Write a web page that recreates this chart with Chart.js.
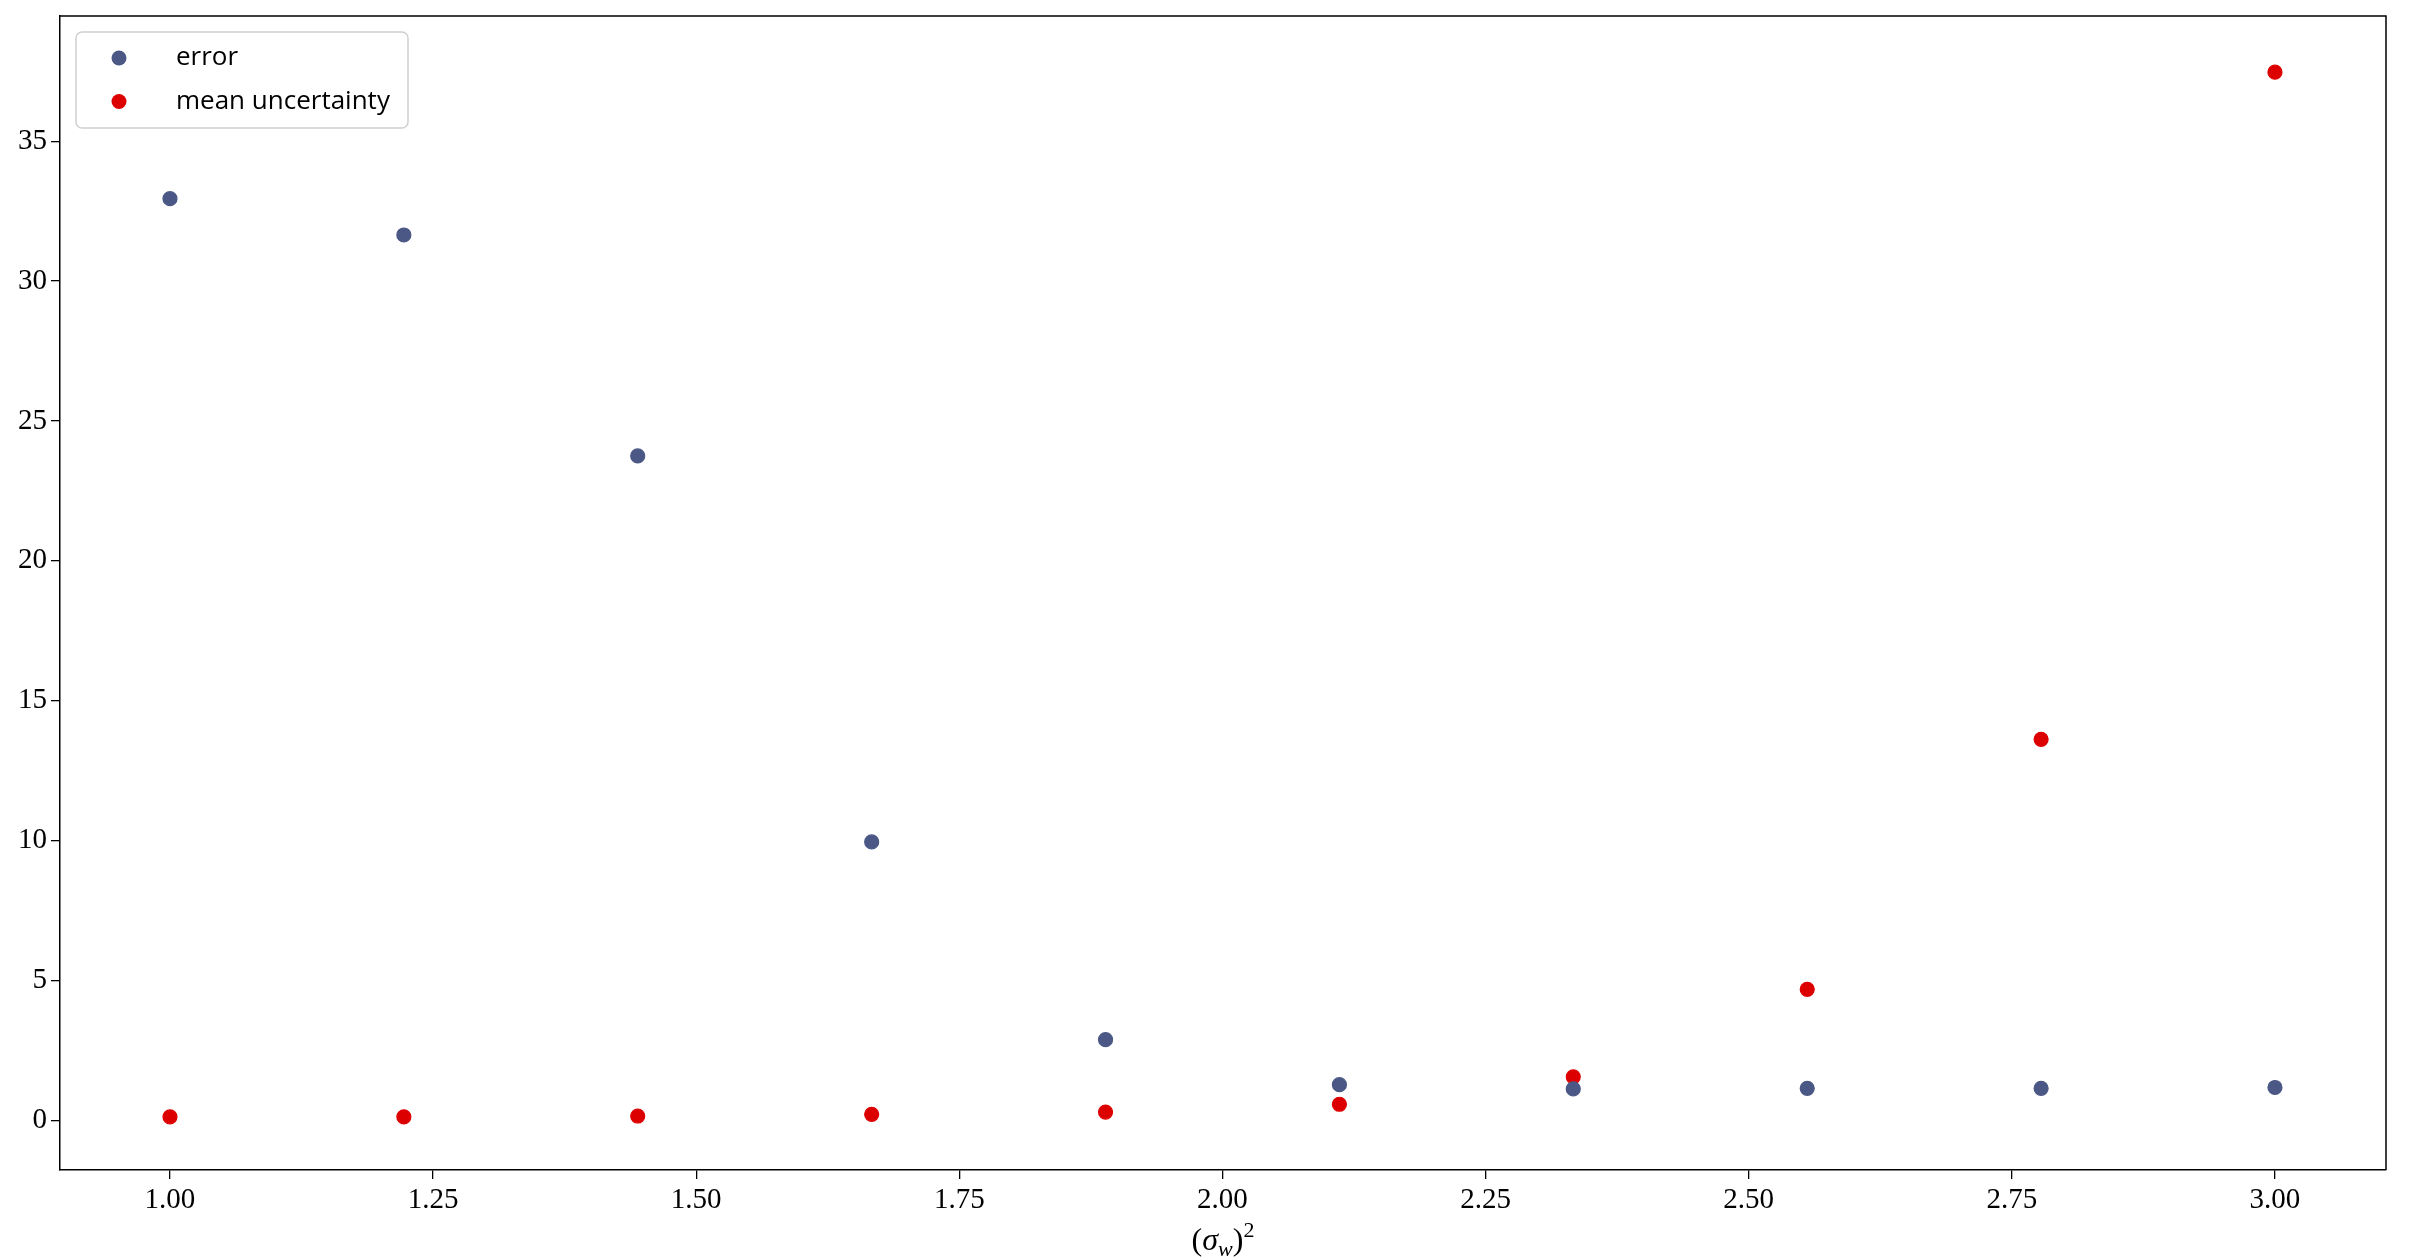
<!DOCTYPE html>
<html>
<head>
<meta charset="utf-8">
<script src="https://cdn.jsdelivr.net/npm/chart.js@4.4.1/dist/chart.umd.min.js"></script>
<style>
  html, body { margin: 0; padding: 0; background: #ffffff; }
  canvas { display: block; }
</style>
</head>
<body>
<canvas id="chart" width="2436" height="1260"></canvas>
<script>
// data
const xValues = [1.0, 1.2222, 1.4444, 1.6667, 1.8889, 2.1111, 2.3333, 2.5556, 2.7778, 3.0];
const errorValues = [32.95, 31.65, 23.75, 9.95, 2.88, 1.27, 1.12, 1.14, 1.14, 1.17];
const uncertaintyValues = [0.12, 0.12, 0.15, 0.21, 0.29, 0.57, 1.55, 4.68, 13.62, 37.47];
const seriesLabels = ["error", "mean uncertainty"];
const xTickValues = [1.0, 1.25, 1.5, 1.75, 2.0, 2.25, 2.5, 2.75, 3.0];
const yTickValues = [0, 5, 10, 15, 20, 25, 30, 35];

const errorColor = "#4b5886";
const uncertaintyColor = "#dd0000";
const tickFont = { family: "'Liberation Serif', 'DejaVu Serif', serif", size: 29 };

function toPoints(ys) {
    return xValues.map((x, i) => ({ x: x, y: ys[i] }));
}

// top and right spines
const framePlugin = {
    id: "frame",
    afterDraw(chart) {
        const { ctx, chartArea: a } = chart;
        ctx.save();
        ctx.strokeStyle = "#000";
        ctx.lineWidth = 1.5;
        ctx.beginPath();
        ctx.moveTo(a.left, a.top);
        ctx.lineTo(a.right, a.top);
        ctx.lineTo(a.right, a.bottom);
        ctx.stroke();
        ctx.restore();
    }
};

// x axis title (sigma_w)^2 with sub/superscript
const titlePlugin = {
    id: "mathTitle",
    afterDraw(chart) {
        const { ctx, chartArea: a } = chart;
        const serif = "'Liberation Serif', 'DejaVu Serif', serif";
        const parts = [
            { t: "(", font: "32px " + serif, dy: 0 },
            { t: "σ", font: "italic 32px " + serif, dy: 0 },
            { t: "w", font: "italic 22px " + serif, dy: 6 },
            { t: ")", font: "32px " + serif, dy: 0 },
            { t: "2", font: "22px " + serif, dy: -13 }
        ];
        ctx.save();
        ctx.fillStyle = "#000";
        ctx.textBaseline = "alphabetic";
        let total = 0;
        parts.forEach(p => { ctx.font = p.font; p.w = ctx.measureText(p.t).width; total += p.w; });
        let x = (a.left + a.right) / 2 - total / 2;
        const base = 1250;
        parts.forEach(p => {
            ctx.font = p.font;
            ctx.fillText(p.t, x, base + p.dy);
            x += p.w;
        });
        ctx.restore();
    }
};

// legend box in the upper left of the plot
const legendPlugin = {
    id: "boxLegend",
    afterDatasetsDraw(chart) {
        const { ctx, chartArea: a } = chart;
        const x0 = a.left + 16, y0 = a.top + 16, w = 332, h = 96, r = 6;
        ctx.save();
        ctx.beginPath();
        ctx.roundRect(x0, y0, w, h, r);
        ctx.fillStyle = "rgba(255,255,255,0.85)";
        ctx.fill();
        ctx.strokeStyle = "#d0d0d0";
        ctx.lineWidth = 1.5;
        ctx.stroke();
        ctx.font = "26px 'Open Sans', 'Noto Sans', sans-serif";
        ctx.textBaseline = "middle";
        chart.data.datasets.forEach((ds, i) => {
            const cy = y0 + 26 + i * 43.5;
            ctx.beginPath();
            ctx.arc(x0 + 43, cy, 7.5, 0, Math.PI * 2);
            ctx.fillStyle = ds.backgroundColor;
            ctx.fill();
            ctx.fillStyle = "#000";
            ctx.fillText(ds.label, x0 + 100, cy);
        });
        ctx.restore();
    }
};

new Chart(document.getElementById("chart"), {
    type: "scatter",
    data: {
        datasets: [
            {
                label: seriesLabels[0],
                data: toPoints(errorValues),
                backgroundColor: errorColor,
                borderColor: errorColor,
                pointRadius: 7,
                borderWidth: 1.2
            },
            {
                label: seriesLabels[1],
                data: toPoints(uncertaintyValues),
                backgroundColor: uncertaintyColor,
                borderColor: uncertaintyColor,
                pointRadius: 7,
                borderWidth: 1.2
            }
        ]
    },
    options: {
        responsive: false,
        animation: false,
        layout: { padding: { top: 16, right: 50, left: 0, bottom: 0 } },
        plugins: {
            legend: { display: false },
            tooltip: { enabled: false }
        },
        scales: {
            x: {
                type: "linear",
                min: 0.8955,
                max: 3.1055,
                afterBuildTicks: s => { s.ticks = xTickValues.map(v => ({ value: v })); },
                afterFit: s => { s.height = 90; s.paddingLeft = 0; s.paddingRight = 0; },
                ticks: {
                    color: "#000",
                    font: tickFont,
                    padding: 4,
                    maxRotation: 0,
                    autoSkip: false,
                    callback: v => v.toFixed(2)
                },
                grid: { display: true, drawOnChartArea: false, drawTicks: true, tickLength: 9, color: "#000", lineWidth: 1.3 },
                border: { display: true, color: "#000", width: 1.5 }
            },
            y: {
                type: "linear",
                min: -1.78,
                max: 39.48,
                afterBuildTicks: s => { s.ticks = yTickValues.map(v => ({ value: v })); },
                afterFit: s => { s.width = 60; s.paddingTop = 0; s.paddingBottom = 0; },
                ticks: {
                    color: "#000",
                    font: tickFont,
                    padding: 4,
                    autoSkip: false,
                    callback: v => String(v)
                },
                grid: { display: true, drawOnChartArea: false, drawTicks: true, tickLength: 9, color: "#000", lineWidth: 1.3 },
                border: { display: true, color: "#000", width: 1.5 }
            }
        }
    },
    plugins: [framePlugin, legendPlugin, titlePlugin]
});
</script>
</body>
</html>
